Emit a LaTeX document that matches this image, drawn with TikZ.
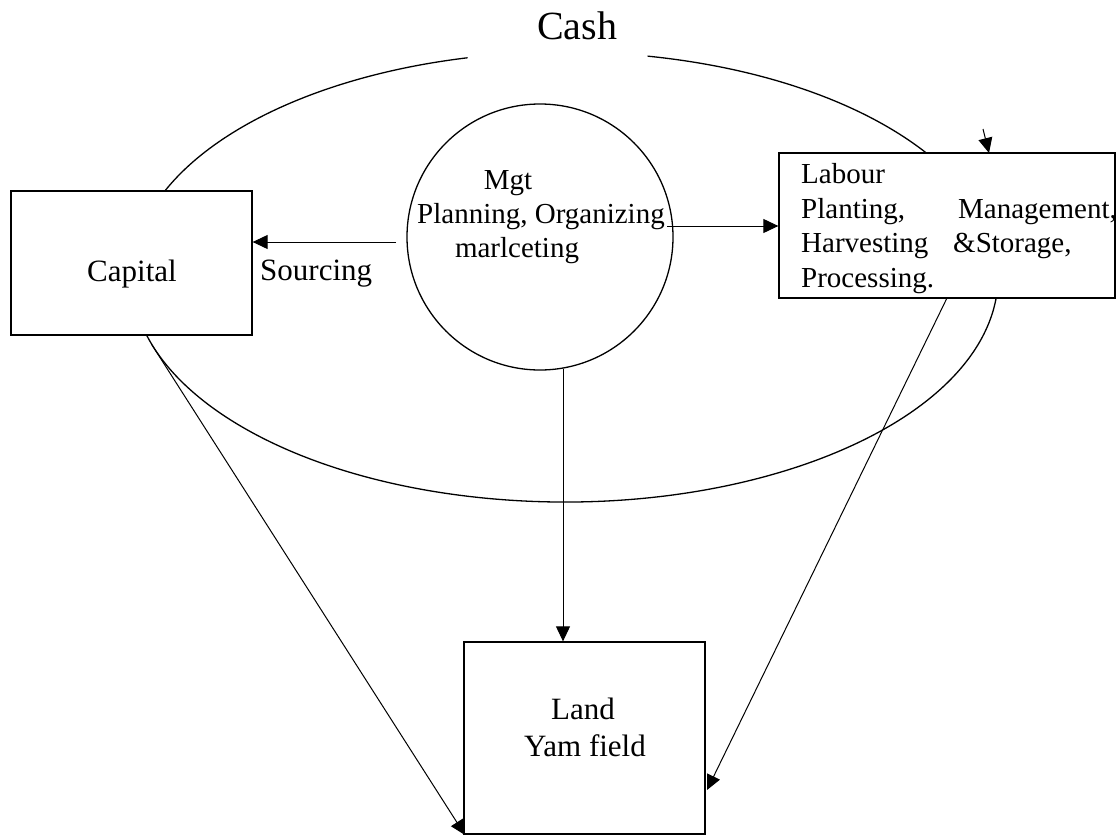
\documentclass[tikz,border=0pt]{standalone}
\usepackage{fontspec}
\setmainfont{Liberation Serif}
\usetikzlibrary{arrows.meta}
\tikzset{
  box/.style={draw, line width=1.3pt, fill=white, rectangle, inner sep=0pt},
  lbl/.style={inner sep=0pt, anchor=base, font=\fontsize{29}{35}\selectfont},
  lblw/.style={lbl, anchor=base west},
  arr/.style={line width=1pt, -{Triangle[length=15pt,width=14pt]}},
  ring/.style={line width=1.3pt},
}
\begin{document}
\begin{tikzpicture}[x=1pt,y=-1pt]
\useasboundingbox (0,0) rectangle (1116,838);
% big Cash ellipse (open at the top where it fades out)
\draw[ring] (565,277) ++(281:433 and 225) arc[start angle=281, end angle=617, x radius=433, y radius=225];
\node[inner sep=0pt, anchor=base, font=\fontsize{40}{44}\selectfont] (cash) at (577,39) {Cash};
% nodes
\node[box, minimum width=241pt, minimum height=144pt] (capital) at (131.5,263) {};
\node[box, minimum width=336pt, minimum height=145pt] (labour) at (947,225.5) {};
\node[box, minimum width=241pt, minimum height=192pt] (land) at (584.5,738) {};
\node[draw, ring, circle, minimum size=266pt, inner sep=0pt] (mgt) at (540,237) {};
% texts
\node[lbl, font=\fontsize{31}{36}\selectfont] (tcap) at (132,281) {Capital};
\node[lblw, font=\fontsize{31}{36}\selectfont] (tsrc) at (260,280) {Sourcing};
\node[lbl] (tm1) at (508,189) {Mgt};
\node[lbl] (tm2) at (541,223) {Planning, Organizing};
\node[lbl] (tm3) at (517,257) {marlceting};
\node[lblw] (tl1) at (801,183) {Labour};
\node[lblw] (tl2) at (801,218) {Planting,};
\node[lblw] (tl3) at (958,218) {Management,};
\node[lblw] (tl4) at (801,252) {Harvesting};
\node[lblw] (tl5) at (953,252) {\&Storage,};
\node[lblw] (tl6) at (801,287) {Processing.};
\node[lbl, font=\fontsize{31}{37}\selectfont] (td1) at (583,719) {Land};
\node[lbl, font=\fontsize{31}{37}\selectfont] (td2) at (585,756) {Yam field};
% connector ends
\coordinate (s1) at (396,242);
\coordinate (s2) at (667,226);
\coordinate (s3) at (563,369);
\coordinate (s4) at (152,345);
\coordinate (e4) at (465,835);
\coordinate (s5) at (947,298);
\coordinate (e5) at (707,790);
\coordinate (s6) at (983,129);
\coordinate (e6) at (989,153);
% connectors
\draw[arr] (s1) -- (s1 -| capital.east);
\draw[arr] (s2) -- (s2 -| labour.west);
\draw[arr] (s3) -- (s3 |- land.north);
\draw[arr] (s4) -- (e4);
\draw[arr] (s5) -- (e5);
\draw[arr] (s6) -- (e6);
\end{tikzpicture}
\end{document}
